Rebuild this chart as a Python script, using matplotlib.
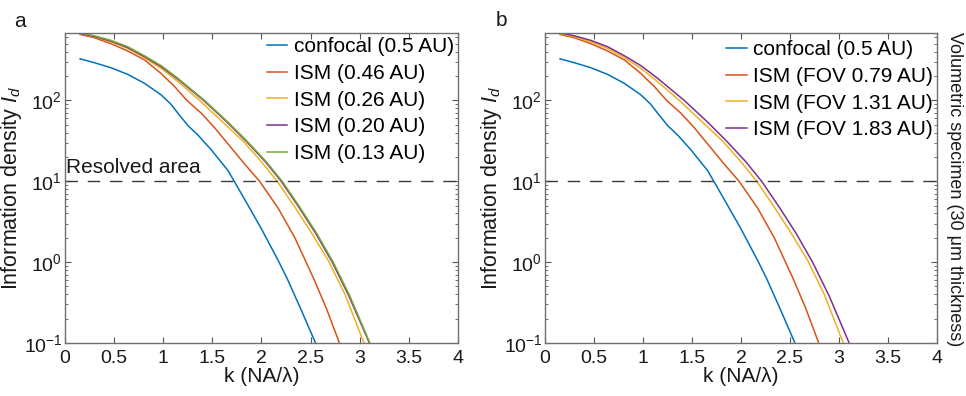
import numpy as np
import matplotlib.pyplot as plt
from matplotlib.ticker import LogLocator, NullFormatter


##### Data (k in NA/lambda, log10 of information density)

k_conf = [0.153, 0.30, 0.469, 0.639, 0.81, 0.98, 1.08, 1.15, 1.25, 1.354, 1.49, 1.66, 1.76, 1.864, 2.0, 2.17, 2.26, 2.40, 2.55, 2.56]
lg_conf = [2.514, 2.465, 2.403, 2.321, 2.21, 2.066, 1.95, 1.84, 1.69, 1.57, 1.387, 1.13, 0.92, 0.70, 0.41, 0.02, -0.20, -0.58, -1.0, -1.03]

k_ism46 = [0.153, 0.30, 0.469, 0.639, 0.81, 0.98, 1.116, 1.24, 1.388, 1.524, 1.66, 1.83, 1.98, 2.17, 2.34, 2.53, 2.66, 2.79, 2.80]
lg_ism46 = [2.815, 2.774, 2.70, 2.61, 2.50, 2.33, 2.17, 2.0, 1.84, 1.66, 1.46, 1.21, 1.0, 0.667, 0.30, -0.20, -0.57, -0.99, -1.03]

k_ism26 = [0.153, 0.30, 0.469, 0.639, 0.81, 0.98, 1.15, 1.37, 1.58, 1.81, 2.0, 2.16, 2.34, 2.51, 2.68, 2.85, 3.04, 3.05]
lg_ism26 = [2.827, 2.786, 2.724, 2.642, 2.527, 2.395, 2.23, 2.0, 1.76, 1.50, 1.24, 1.0, 0.68, 0.36, 0.02, -0.40, -0.99, -1.03]

k_ism20 = [0.153, 0.30, 0.469, 0.639, 0.81, 0.98, 1.15, 1.32, 1.41, 1.65, 1.84, 2.04, 2.20, 2.38, 2.55, 2.72, 2.89, 3.095, 3.10]
lg_ism20 = [2.83, 2.79, 2.732, 2.652, 2.54, 2.416, 2.26, 2.09, 2.0, 1.73, 1.50, 1.24, 1.0, 0.68, 0.36, 0.0, -0.42, -0.99, -1.03]

k_ism13 = [0.153, 0.30, 0.469, 0.639, 0.81, 0.98, 1.15, 1.32, 1.42, 1.66, 1.85, 2.05, 2.21, 2.39, 2.56, 2.73, 2.90, 3.10, 3.11]
lg_ism13 = [2.835, 2.798, 2.741, 2.663, 2.551, 2.428, 2.272, 2.10, 2.0, 1.73, 1.50, 1.24, 1.0, 0.68, 0.36, 0.0, -0.42, -0.99, -1.03]

# panel b: volumetric specimen, different detector FOV
k_fov079, lg_fov079 = k_ism46, lg_ism46
k_fov131, lg_fov131 = k_ism26, lg_ism26
k_fov183, lg_fov183 = k_ism13, lg_ism13

labels_a = ['confocal (0.5 AU)', 'ISM (0.46 AU)', 'ISM (0.26 AU)', 'ISM (0.20 AU)', 'ISM (0.13 AU)']
labels_b = ['confocal (0.5 AU)', 'ISM (FOV 0.79 AU)', 'ISM (FOV 1.31 AU)', 'ISM (FOV 1.83 AU)']

threshold = 10
x_ticks = [0, 0.5, 1, 1.5, 2, 2.5, 3, 3.5, 4]
x_ticklabels = ['0', '0.5', '1', '1.5', '2', '2.5', '3', '3.5', '4']

##### Style

c_blue = '#0072BD'
c_red = '#D95319'
c_yellow = '#EDB120'
c_purple = '#7E2F8E'
c_green = '#77AC30'

plt.rcParams['font.family'] = ['Liberation Sans', 'DejaVu Sans']
plt.rcParams['mathtext.fontset'] = 'custom'
plt.rcParams['mathtext.rm'] = 'Liberation Sans'
plt.rcParams['mathtext.it'] = 'Liberation Sans:italic'
plt.rcParams['axes.unicode_minus'] = False
plt.rcParams['font.size'] = 15

txt_col = '#1a1a1a'


def style_axes(ax):
    ax.set_yscale('log')
    ax.set_xlim(0, 4)
    ax.set_ylim(0.1, 680)
    ax.set_xticks(x_ticks)
    ax.set_xticklabels(x_ticklabels)
    ax.yaxis.set_major_locator(LogLocator(base=10, numticks=10))
    ax.yaxis.set_minor_locator(LogLocator(base=10, subs=np.arange(2, 10), numticks=10))
    ax.yaxis.set_minor_formatter(NullFormatter())
    ax.tick_params(which='both', direction='in', top=True, right=True, colors='#555555',
                   labelcolor=txt_col, labelsize=14)
    ax.tick_params(axis='x', pad=5)
    ax.tick_params(axis='y', pad=2)
    ax.tick_params(which='major', length=4, width=0.8)
    ax.tick_params(which='minor', length=2.5, width=0.6)
    for s in ax.spines.values():
        s.set_color('#707070')
        s.set_linewidth(1.0)
    ax.axhline(threshold, color='#3a3a3a', lw=1.0, dashes=(9, 7))
    ax.set_xlabel('k (NA/λ)', fontsize=15, labelpad=0, color=txt_col)
    ax.set_ylabel(r'Information density $\mathit{I_d}$', fontsize=15.5, labelpad=0, color=txt_col)


fig = plt.figure(figsize=(9.66, 3.96), dpi=100)
ax_a = fig.add_axes([0.0673, 0.1338, 0.4068, 0.7828])
ax_b = fig.add_axes([0.5642, 0.1338, 0.4058, 0.7828])

legend_kw = dict(loc='upper right', frameon=False, fontsize=15, handlelength=1.0, handletextpad=0.3,
                 labelspacing=0.37, borderaxespad=0.0, borderpad=0.2)

##### Panel a

series_a = [(k_conf, lg_conf, c_blue), (k_ism46, lg_ism46, c_red), (k_ism26, lg_ism26, c_yellow),
            (k_ism20, lg_ism20, c_purple), (k_ism13, lg_ism13, c_green)]
for (k, lg, c), lab in zip(series_a, labels_a):
    ax_a.plot(k, 10 ** np.array(lg), color=c, lw=1.1, label=lab)
style_axes(ax_a)
ax_a.legend(bbox_to_anchor=(1.0, 1.0), **legend_kw)
ax_a.text(0.01, 11.3, 'Resolved area', fontsize=15, ha='left', va='bottom', color=txt_col)
fig.text(0.015, 0.945, 'a', fontsize=15, ha='left', va='center', color=txt_col)

##### Panel b

series_b = [(k_conf, lg_conf, c_blue), (k_fov079, lg_fov079, c_red), (k_fov131, lg_fov131, c_yellow),
            (k_fov183, lg_fov183, c_purple)]
for (k, lg, c), lab in zip(series_b, labels_b):
    ax_b.plot(k, 10 ** np.array(lg), color=c, lw=1.1, label=lab)
style_axes(ax_b)
ax_b.legend(bbox_to_anchor=(1.0, 0.99), **legend_kw)
ax_b.text(1.022, 0.495, 'Volumetric specimen (30 μm thickness)', transform=ax_b.transAxes,
          rotation=270, fontsize=13, ha='left', va='center', color=txt_col)
fig.text(0.513, 0.948, 'b', fontsize=15, ha='left', va='center', color=txt_col)

fig.savefig('out.png', dpi=100)
